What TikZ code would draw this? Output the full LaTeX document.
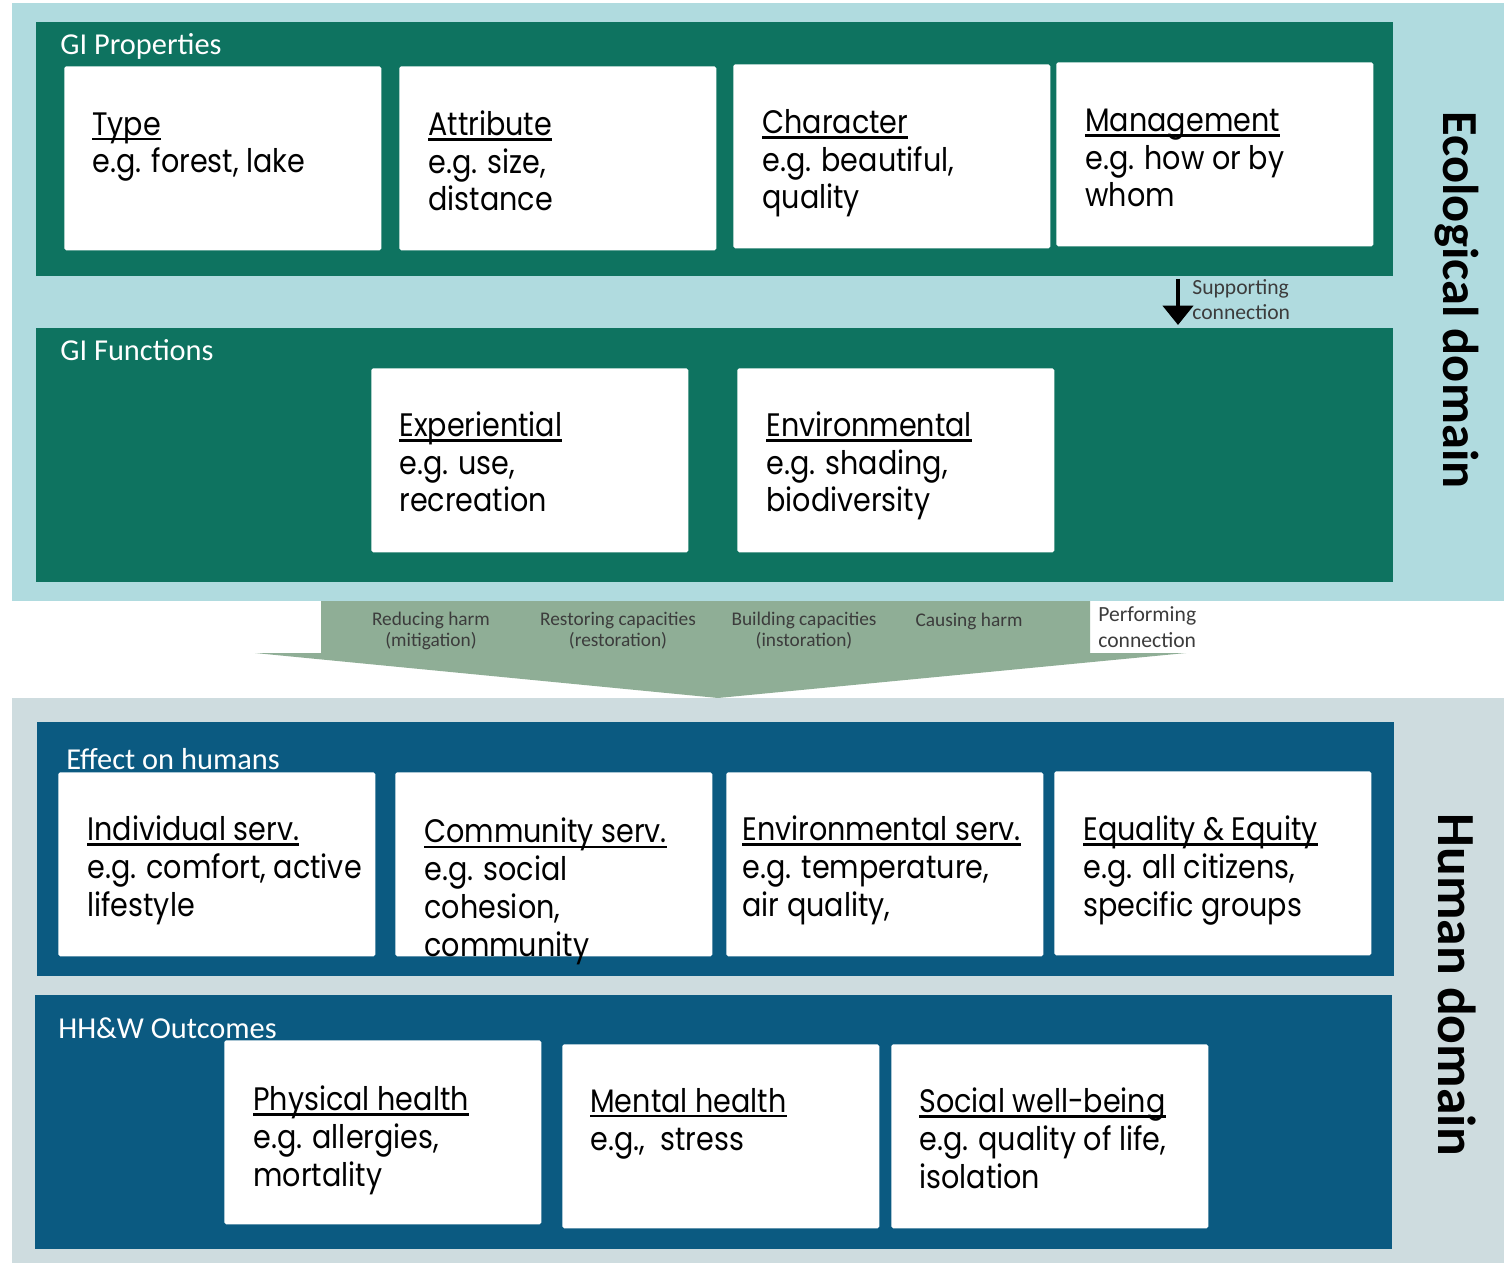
\documentclass[tikz,border=0pt]{standalone}
\usepackage{fontspec}
\setmainfont{Carlito}
\newfontfamily\boxfont[FakeStretch=0.88]{Poppins}
\usetikzlibrary{arrows.meta,positioning,calc}
\definecolor{ecobg}{HTML}{B0DBDF}
\definecolor{ecopanel}{HTML}{0E7360}
\definecolor{humbg}{HTML}{CEDCDF}
\definecolor{humpanel}{HTML}{0B5A81}
\definecolor{flow}{HTML}{8FAE96}
\definecolor{labgray}{HTML}{3C3C3C}
\newsavebox\unterbox
\newcommand\unter[1]{\sbox\unterbox{#1}\rlap{\rule[-0.16em]{\wd\unterbox}{0.07em}}\usebox\unterbox}
\tikzset{
  panel/.style={rectangle, draw=none, anchor=north west, inner sep=0pt,
                minimum width=27.14cm, minimum height=5.08cm},
  kasten/.style={rectangle, draw=none, fill=white, anchor=north west,
                 minimum width=6.34cm, minimum height=3.68cm,
                 inner sep=0pt, rounded corners=1pt},
  inhalt/.style={anchor=base west, align=left, inner sep=0pt,
                 font=\boxfont\fontsize{18.5}{21.5}\selectfont},
  titel/.style={anchor=base west, inner sep=0pt, text=white,
                font=\fontsize{17.3}{20}\selectfont},
  weg/.style={align=center, inner sep=0pt, text=labgray,
              font=\fontsize{11}{12}\selectfont},
  notiz/.style={anchor=base west, align=left, inner sep=0pt, text=labgray,
                font=\fontsize{12.3}{14.7}\selectfont},
  bereich/.style={rotate=-90, inner sep=0pt, font=\bfseries},
  stuetz/.style={-{Triangle[width=17pt, length=11pt]}, line width=2.6pt}
}
\begin{document}
\begin{tikzpicture}[x=0.02cm, y=-0.02cm]
  \useasboundingbox (0,0) rectangle (1504,1263);
  \fill[white] (0,0) rectangle (1504,1263);

  % Oekologischer Bereich
  \fill[ecobg] (12,3) rectangle (1504,601);
  \node[panel, fill=ecopanel] (prop) at (36,22) {};
  \node[titel] (propT) at (60,55) {GI Properties};
  \node[kasten] (k1) at (64,66) {};
  \node[kasten] (k2) at (399,66) {};
  \node[kasten] (k3) at (733,64) {};
  \node[kasten] (k4) at (1056,62) {};
  \node[inhalt] (k1T) at ($(k1.north west)+(28,107)$) {\unter{Type}\\e.g. forest, lake};
  \node[inhalt] (k2T) at ($(k2.north west)+(29,145)$) {\unter{Attribute}\\e.g. size,\\distance};
  \node[inhalt] (k3T) at ($(k3.north west)+(29,145)$) {\unter{Character}\\e.g. beautiful,\\quality};
  \node[inhalt] (k4T) at ($(k4.north west)+(29,145)$) {\unter{Management}\\e.g. how or by\\whom};

  \node[panel, fill=ecopanel] (func) at (36,328) {};
  \node[titel] (funcT) at (60,361) {GI Functions};
  \node[kasten] (f1) at (371,368) {};
  \node[kasten] (f2) at (737,368) {};
  \node[inhalt] (f1T) at ($(f1.north west)+(28,144)$) {\unter{Experiential}\\e.g. use,\\recreation};
  \node[inhalt] (f2T) at ($(f2.north west)+(29,144)$) {\unter{Environmental}\\e.g. shading,\\biodiversity};

  \coordinate (s1) at (1178,279);
  \coordinate (s2) at (1178,325);
  \draw[stuetz] (s1) -- (s2);
  \node[notiz] (sT) at (1192,320) {Supporting\\connection};
  \node[bereich, font=\bfseries\fontsize{28.7}{32}\selectfont] (eco) at (1457,300) {Ecological domain};

  % Uebergang
  \fill[flow] (321,601) -- (1090,601) -- (1090,653) -- (1186,653)
    -- (718,698) -- (255,653) -- (321,653) -- cycle;
  \node[weg] (w1) at (431,631) {Reducing harm\\(mitigation)};
  \node[weg] (w2) at (618,631) {Restoring capacities\\(restoration)};
  \node[weg] (w3) at (804,631) {Building capacities\\(instoration)};
  \node[weg, anchor=base] (w4) at (969,626) {Causing harm};
  \node[notiz] (pT) at (1098,647) {Performing\\connection};

  % Menschlicher Bereich
  \fill[humbg] (12,698) rectangle (1504,1263);
  \node[panel, fill=humpanel] (eff) at (37,722) {};
  \node[titel] (effT) at (66,769) {Effect on humans};
  \node[kasten] (e1) at (58,772) {};
  \node[kasten] (e2) at (395,772) {};
  \node[kasten] (e3) at (726,772) {};
  \node[kasten] (e4) at (1054,771) {};
  \node[inhalt] (e1T) at ($(e1.north west)+(29,144)$) {\unter{Individual serv.}\\e.g. comfort, active\\lifestyle};
  \node[inhalt] (e2T) at ($(e2.north west)+(29,184)$) {\unter{Community serv.}\\e.g. social\\cohesion,\\community};
  \node[inhalt] (e3T) at ($(e3.north west)+(16,144)$) {\unter{Environmental serv.}\\e.g. temperature,\\air quality,};
  \node[inhalt] (e4T) at ($(e4.north west)+(29,145)$) {\unter{Equality \& Equity}\\e.g. all citizens,\\specific groups};

  \node[panel, fill=humpanel] (out) at (35,995) {};
  \node[titel] (outT) at (58,1038) {HH\&W Outcomes};
  \node[kasten] (o1) at (224,1040) {};
  \node[kasten] (o2) at (562,1044) {};
  \node[kasten] (o3) at (891,1044) {};
  \node[inhalt] (o1T) at ($(o1.north west)+(29,146)$) {\unter{Physical health}\\e.g. allergies,\\mortality};
  \node[inhalt] (o2T) at ($(o2.north west)+(28,106)$) {\unter{Mental health}\\e.g.,~~stress};
  \node[inhalt] (o3T) at ($(o3.north west)+(28,144)$) {\unter{Social well-being}\\e.g. quality of life,\\isolation};
  \node[bereich, font=\bfseries\fontsize{30.5}{34}\selectfont] (hum) at (1457,985) {Human domain};
\end{tikzpicture}
\end{document}
